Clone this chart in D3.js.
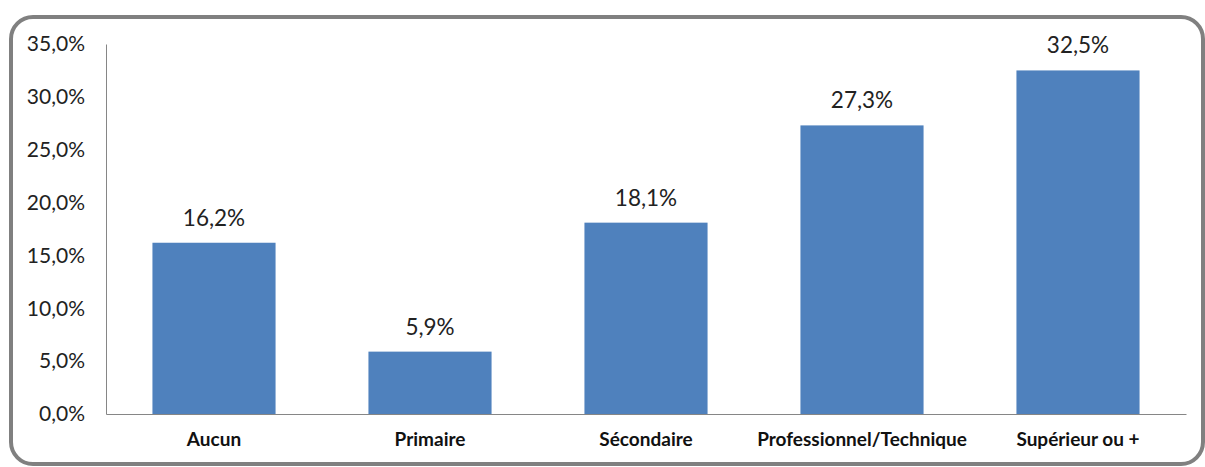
<!DOCTYPE html>
<html><head><meta charset="utf-8">
<script src="https://cdn.jsdelivr.net/npm/d3@7"></script>
<style>body{margin:0;background:#fff}svg{display:block}</style>
</head><body>
<script>
const categories = ["Aucun","Primaire","Sécondaire","Professionnel/Technique","Supérieur ou +"];
const values = [16.2, 5.9, 18.1, 27.3, 32.5];
const yTicks = [0,5,10,15,20,25,30,35];

(function(){
const W=1205,H=467;
const svg=d3.select("body").append("svg").attr("width",W).attr("height",H);
svg.append("rect").attr("x",11).attr("y",17).attr("width",1192).attr("height",447).attr("rx",22)
  .attr("fill","#fff").attr("stroke","#808080").attr("stroke-width",4);

const mL=106,mR=1186,mT=44,mB=414;
const x=d3.scaleBand().domain(categories).range([mL,mR]).paddingInner(0.43).paddingOuter(0.215);
const y=d3.scaleLinear().domain([0,35]).range([mB,mT]);
const fmt=v=>v.toFixed(1).replace(".",",")+"%";

svg.selectAll(".bar").data(values).join("rect")
  .attr("x",(d,i)=>x(categories[i])).attr("width",x.bandwidth())
  .attr("y",d=>y(d)).attr("height",d=>y(0)-y(d)).attr("fill","#4F81BD");

svg.selectAll(".val").data(values).join("text")
  .attr("x",(d,i)=>x(categories[i])+x.bandwidth()/2).attr("y",d=>y(d)-17)
  .attr("text-anchor","middle").attr("font-family","Lato, sans-serif").attr("font-size",22.5)
  .attr("fill","#222").text(d=>fmt(d));

const ya=svg.append("g").attr("transform",`translate(${mL},0)`)
  .call(d3.axisLeft(y).tickValues(yTicks).tickSize(0).tickPadding(21).tickFormat(d=>fmt(d)));
ya.select(".domain").attr("stroke","#868686");
ya.selectAll("text").attr("font-family","Lato, sans-serif").attr("font-size",21).attr("fill","#222");

const xa=svg.append("g").attr("transform",`translate(0,${mB})`)
  .call(d3.axisBottom(x).tickSize(0).tickPadding(19));
xa.select(".domain").attr("stroke","#868686");
xa.selectAll("text").attr("font-family","Lato, sans-serif").attr("font-size",19).attr("font-weight","bold").attr("fill","#111");
})();
</script>
</body></html>
